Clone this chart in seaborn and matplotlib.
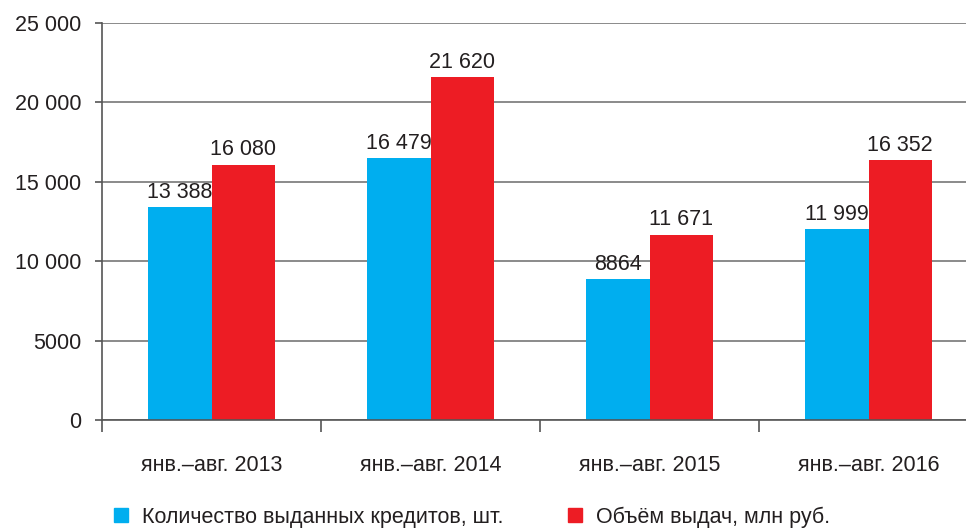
import pandas as pd
import numpy as np
import matplotlib.pyplot as plt
import seaborn as sns
from matplotlib.lines import Line2D

# data
periods = ["янв.–авг. 2013", "янв.–авг. 2014", "янв.–авг. 2015", "янв.–авг. 2016"]
loans_count = [13388, 16479, 8864, 11999]
loans_volume = [16080, 21620, 11671, 16352]
series_names = ["Количество выданных кредитов, шт.", "Объём выдач, млн руб."]
y_ticks = [0, 5000, 10000, 15000, 20000, 25000]

BLUE = "#00AEEF"
RED = "#ED1C24"
TEXT = "#231F20"
FS = 15.5


def ru_fmt(v):
    # russian style: no separator for 4-digit numbers, space otherwise
    v = int(round(v))
    if v < 10000:
        return str(v)
    return f"{v:,}".replace(",", " ")


df = pd.DataFrame({
    "period": periods * 2,
    "value": loans_count + loans_volume,
    "series": [series_names[0]] * len(periods) + [series_names[1]] * len(periods),
})

sns.set_style("white")
plt.rcParams["font.family"] = ["Liberation Sans", "DejaVu Sans"]
plt.rcParams["text.color"] = TEXT

fig = plt.figure(figsize=(9.66, 5.28), dpi=100)
ax = fig.add_axes([102 / 966, 108 / 528, 864 / 966, 397 / 528])

sns.barplot(data=df, x="period", y="value", hue="series", order=periods,
            hue_order=series_names, palette=[BLUE, RED], saturation=1,
            width=0.58, linewidth=0, ax=ax, legend=False)

for cont in ax.containers:
    ax.bar_label(cont, labels=[ru_fmt(b.get_height()) for b in cont],
                 padding=3, fontsize=FS, color=TEXT)

ax.set_ylim(0, 25000)
ax.set_xlim(-0.5, 3.5 - 12 / 219)
ax.set_yticks(y_ticks)
ax.set_yticklabels([ru_fmt(t) for t in y_ticks], fontsize=FS, color=TEXT)
ax.yaxis.grid(True, color="#8a8a8a", linewidth=1.4)
ax.set_axisbelow(True)
ax.set_xlabel("")
ax.set_ylabel("")

ax.tick_params(axis="x", which="major", length=0, pad=25, labelsize=FS, labelcolor=TEXT)
ax.set_xticks([-0.5, 0.5, 1.5, 2.5], minor=True)
ax.tick_params(axis="x", which="minor", bottom=True, length=8.6, width=1.2,
               color="#555555", direction="out")
ax.tick_params(axis="y", left=True, length=5, width=1.2, color="#555555",
               direction="out", pad=10)

for s in ["top", "right"]:
    ax.spines[s].set_visible(False)
for s in ["left", "bottom"]:
    ax.spines[s].set_color("#555555")
    ax.spines[s].set_linewidth(1.2)

handles = [Line2D([], [], marker="s", linestyle="", markersize=10, color=c) for c in [BLUE, RED]]
fig.legend(handles, series_names, loc="lower left", bbox_to_anchor=(0.095, -0.036), ncol=2,
           frameon=False, fontsize=FS, handlelength=0.9, handletextpad=0.55, columnspacing=2.85)

fig.savefig("out.png", dpi=100)
